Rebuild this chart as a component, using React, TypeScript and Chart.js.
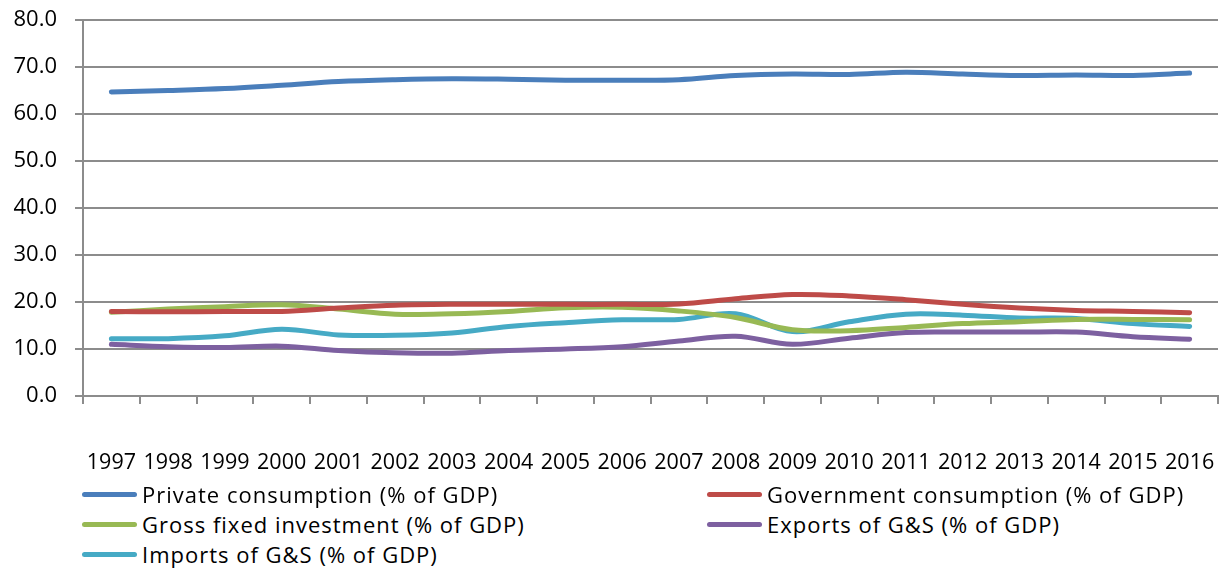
import React, { useEffect, useRef } from "react";
import { Chart, registerables } from "chart.js";

Chart.register(...registerables);

const years = ["1997","1998","1999","2000","2001","2002","2003","2004","2005","2006","2007","2008","2009","2010","2011","2012","2013","2014","2015","2016"];
const privateConsumption = [64.7,65.0,65.4,66.1,66.9,67.3,67.5,67.4,67.2,67.2,67.3,68.2,68.5,68.4,68.9,68.5,68.2,68.3,68.2,68.7];
const governmentConsumption = [18.0,17.9,18.0,18.0,18.7,19.3,19.5,19.5,19.5,19.5,19.6,20.7,21.6,21.3,20.5,19.5,18.7,18.2,18.0,17.7];
const grossFixedInvestment = [17.8,18.5,19.0,19.4,18.5,17.4,17.5,18.0,18.8,18.9,18.1,16.7,14.1,13.9,14.6,15.4,15.8,16.3,16.3,16.2];
const exportsGS = [11.0,10.5,10.3,10.6,9.7,9.2,9.1,9.7,10.0,10.5,11.7,12.7,11.0,12.3,13.5,13.6,13.6,13.6,12.6,12.1];
const importsGS = [12.2,12.2,12.8,14.2,13.0,12.9,13.4,14.8,15.6,16.2,16.3,17.5,13.7,15.8,17.4,17.2,16.6,16.5,15.4,14.8];
const yTicks = [0,10,20,30,40,50,60,70,80];

const seriesNames = [
  "Private consumption (% of GDP)",
  "Government consumption (% of GDP)",
  "Gross fixed investment (% of GDP)",
  "Exports of G&S (% of GDP)",
  "Imports of G&S (% of GDP)",
];
const seriesColors = ["#4A7EBB", "#BE4B48", "#98B954", "#7D60A0", "#46AAC5"];
const seriesData = [privateConsumption, governmentConsumption, grossFixedInvestment, exportsGS, importsGS];

const FONT = "'Open Sans', Lato, sans-serif";

export default function App() {
  const ref = useRef<HTMLCanvasElement | null>(null);

  useEffect(() => {
    document.body.style.margin = "0";
    const ctx = ref.current!;
    const chart = new Chart(ctx, {
      type: "line",
      data: {
        labels: years,
        datasets: seriesData.map((d, i) => ({
          label: seriesNames[i],
          data: d,
          borderColor: seriesColors[i],
          backgroundColor: seriesColors[i],
          borderWidth: 5,
          pointRadius: 0,
          borderCapStyle: "round" as const,
          borderJoinStyle: "round" as const,
          tension: 0.35,
          fill: false,
        })),
      },
      options: {
        responsive: false,
        animation: false,
        maintainAspectRatio: false,
        layout: { padding: { top: 20, right: 5, left: 0, bottom: 0 } },
        plugins: { legend: { display: false }, tooltip: { enabled: false } },
        scales: {
          x: {
            type: "category",
            offset: true,
            grid: {
              offset: true,
              drawOnChartArea: false,
              drawTicks: true,
              tickLength: 8,
              color: "#8c8c8c",
              lineWidth: 2,
            },
            border: { color: "#8c8c8c", width: 2 },
            ticks: {
              color: "#000",
              font: { family: FONT, size: 21.5 },
              padding: 46,
              maxRotation: 0,
              minRotation: 0,
              autoSkip: false,
            },
            afterFit: (s: any) => {
              s.height = 84;
              s.paddingLeft = 0;
              s.paddingRight = 0;
            },
          },
          y: {
            min: 0,
            max: 80,
            afterBuildTicks: (s: any) => { s.ticks = yTicks.map((v) => ({ value: v })); },
            grid: {
              color: "#8c8c8c",
              lineWidth: 2,
              tickLength: 8,
              drawTicks: true,
            },
            border: { color: "#8c8c8c", width: 2 },
            ticks: {
              color: "#000",
              font: { family: FONT, size: 22 },
              padding: 18,
              callback: (v: any) => Number(v).toFixed(1),
            },
            afterFit: (s: any) => {
              s.width = 83;
              s.paddingTop = 0;
              s.paddingBottom = 0;
            },
          },
        },
      },
    });
    return () => chart.destroy();
  }, []);

  const legendItem = (i: number, left: number, top: number) => (
    <div
      key={i}
      style={{
        position: "absolute",
        left,
        top,
        height: 30,
        display: "flex",
        alignItems: "center",
        fontFamily: FONT,
        fontSize: 22,
        letterSpacing: 1,
        color: "#000",
        whiteSpace: "nowrap",
      }}
    >
      <span
        style={{
          display: "inline-block",
          width: 55,
          height: 5,
          borderRadius: 3,
          background: seriesColors[i],
          marginRight: 5,
        }}
      />
      <span>{seriesNames[i]}</span>
    </div>
  );

  return (
    <div style={{ position: "relative", width: 1223, height: 569, background: "#fff", overflow: "hidden" }}>
      <canvas ref={ref} width={1223} height={480} style={{ position: "absolute", left: 0, top: 0, width: 1223, height: 480 }} />
      {legendItem(0, 82, 479)}
      {legendItem(1, 707, 479)}
      {legendItem(2, 82, 509)}
      {legendItem(3, 707, 509)}
      {legendItem(4, 82, 539)}
    </div>
  );
}
